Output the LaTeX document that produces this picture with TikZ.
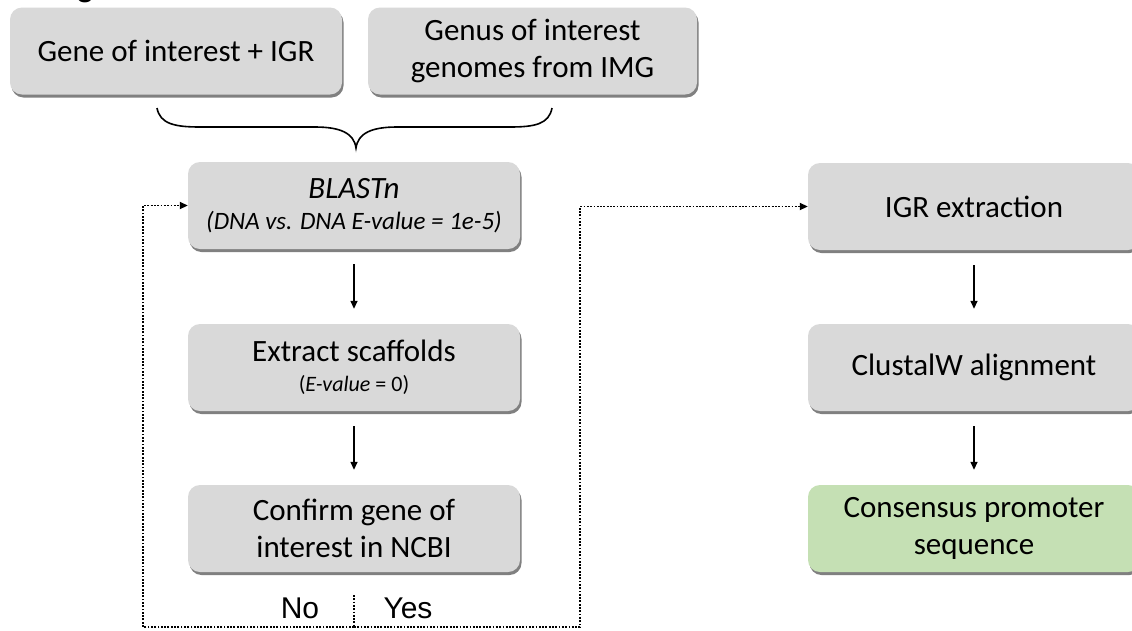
\documentclass[tikz,border=0pt]{standalone}
\usepackage{fontspec}
\setmainfont{Carlito}
\newfontfamily\arialfont{Liberation Sans}
\usetikzlibrary{arrows.meta,shadows}
\definecolor{boxgray}{HTML}{D9D9D9}
\definecolor{boxgreen}{HTML}{C5E0B4}
\begin{document}
\begin{tikzpicture}[x=1pt,y=-1pt,
  box/.style={fill=boxgray, rounded corners=12pt, minimum width=332pt,
    minimum height=87pt, align=center, inner sep=0pt,
    font=\fontsize{31}{37}\selectfont,
    drop shadow={shadow xshift=1.5pt, shadow yshift=-3pt, fill=black!50, opacity=1}},
  greenbox/.style={box, fill=boxgreen},
  flow/.style={-{Triangle[length=8pt,width=7pt]}, line width=1.4pt,
    shorten <=15pt, shorten >=15pt},
  dotline/.style={line width=1.8pt, dash pattern=on 1.8pt off 1.5pt},
  dotarrow/.style={dotline, -{Triangle[length=8pt,width=7pt]}},
  yesno/.style={font=\arialfont\fontsize{30}{36}\selectfont, inner sep=0pt},
  frag/.style={font=\arialfont\bfseries\fontsize{30}{36}\selectfont, inner sep=0pt, anchor=base west}
]
\useasboundingbox (0,0) rectangle (1132,630);
\fill[white] (0,0) rectangle (1132,630);

\node[frag] (fragment) at (76,-4) {g};

% top inputs
\node[box] (gene) at (176,51) {Gene of interest + IGR};
\node[box, minimum width=329pt] (genus) at (532.5,51) {Genus of interest\\genomes from IMG};

% brace
\draw[line width=1.6pt] (157,108) .. controls (160,124) and (175,127) .. (200,127)
  -- (315,127) .. controls (340,127) and (354,133) .. (356,148)
  .. controls (358,133) and (372,127) .. (397,127)
  -- (510,127) .. controls (535,127) and (549,124) .. (552,108);

% left column
\node[box] (blast) at (354,205.5) {\itshape BLASTn\\[-6pt]{\fontsize{25}{30}\selectfont\itshape (DNA vs. DNA E-value = 1e-5)}};
\node[box] (extract) at (354,367.5) {Extract scaffolds\\[-7pt]{\fontsize{22}{28}\selectfont (\textit{E-value} = 0)}};
\node[box] (confirm) at (354,528.5) {Confirm gene of\\interest in NCBI};

% right column
\node[box] (igr) at (974,206.5) {IGR extraction};
\node[box] (clustal) at (974,367.5) {ClustalW alignment};
\node[greenbox] (consensus) at (974,528.5) {Consensus promoter\\sequence};

% solid arrows
\draw[flow] (blast.south) -- (extract.north);
\draw[flow] (extract.south) -- (confirm.north);
\draw[flow] (igr.south) -- (clustal.north);
\draw[flow] (clustal.south) -- (consensus.north);

% decision labels
\node[yesno] (no) at (300,608) {No};
\node[yesno] (yes) at (408,608) {Yes};

% dotted loops
\coordinate (split) at (354,627);
\coordinate (septop) at (354,595);
\coordinate (loopL) at (143,627);
\coordinate (loopR) at (580,627);
\draw[dotline] (septop) -- (split);
\draw[dotarrow] (split) -- (loopL) |- (blast.west);
\draw[dotarrow] (split) -- (loopR) |- (igr.west);
\end{tikzpicture}
\end{document}
